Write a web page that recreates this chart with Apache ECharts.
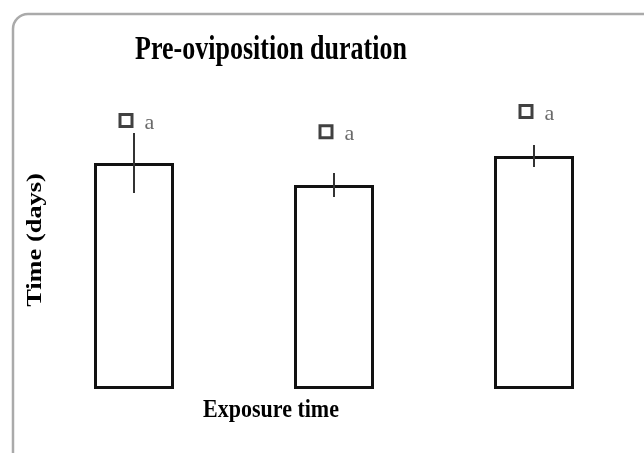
<!DOCTYPE html>
<html>
<head>
<meta charset="utf-8">
<script src="https://cdn.jsdelivr.net/npm/echarts@6/dist/echarts.min.js"></script>
<style>html,body{margin:0;padding:0;background:#fff}#c{width:644px;height:453px}</style>
</head>
<body>
<div id="c"></div>
<script>
var categories = ['T1', 'T2', 'T3'];
var meanValues = [2.26, 2.04, 2.33];
var errorValues = [0.30, 0.12, 0.11];
var markerValues = [2.685, 2.573, 2.775];
var markerLabels = ['a', 'a', 'a'];
var titleText = 'Pre-oviposition duration';
var xName = 'Exposure time';
var yName = 'Time (days)';

var chart = echarts.init(document.getElementById('c'), null, {renderer: 'canvas'});
var serif = '"Liberation Serif", "DejaVu Serif", serif';

var errData = categories.map(function (c, i) {
  return [i, meanValues[i] - errorValues[i], meanValues[i] + errorValues[i]];
});
var markData = categories.map(function (c, i) {
  return {value: [i, markerValues[i]], label: {formatter: markerLabels[i]}};
});

chart.setOption({
  animation: false,
  backgroundColor: '#fff',
  graphic: [
    {type: 'rect', shape: {x: 13, y: 14, width: 660, height: 460, r: 15},
     style: {fill: 'none', stroke: '#aaaaaa', lineWidth: 2.5}, z: -1},
    {type: 'text', x: 271, y: 50, scaleY: 1.28, style: {text: titleText, font: 'bold 26px ' + serif, fill: '#000', textAlign: 'center', textVerticalAlign: 'middle'}},
    {type: 'text', x: 271, y: 410, scaleY: 1.15, style: {text: xName, font: 'bold 22px ' + serif, fill: '#000', textAlign: 'center', textVerticalAlign: 'middle'}},
    {type: 'text', x: 35, y: 240, rotation: Math.PI / 2, scaleX: 1.2, style: {text: yName, font: 'bold 22px ' + serif, fill: '#000', textAlign: 'center', textVerticalAlign: 'middle'}}
  ],
  grid: {left: 34, right: 10, top: 89, bottom: 64},
  xAxis: {
    type: 'category', data: categories,
    axisLine: {show: false}, axisTick: {show: false}, axisLabel: {show: false}
  },
  yAxis: {
    type: 'value', min: 0, max: 3,
    axisLine: {show: false}, axisTick: {show: false}, axisLabel: {show: false}, splitLine: {show: false}
  },
  series: [
    {
      type: 'bar', data: meanValues, barWidth: 80,
      itemStyle: {color: '#fff', borderColor: '#111', borderWidth: 3},
      z: 2
    },
    {
      type: 'custom', data: errData, z: 3,
      renderItem: function (params, api) {
        var lo = api.coord([api.value(0), api.value(1)]);
        var hi = api.coord([api.value(0), api.value(2)]);
        return {type: 'line', shape: {x1: lo[0], y1: lo[1], x2: hi[0], y2: hi[1]},
                style: {stroke: '#333', lineWidth: 2}};
      }
    },
    {
      type: 'scatter', data: markData, symbol: 'rect', symbolSize: 12,
      symbolOffset: [-8, 0],
      itemStyle: {color: '#fff', borderColor: '#111', borderWidth: 3},
      label: {show: true, position: 'right', distance: 11, offset: [0, 3],
              fontFamily: serif, fontSize: 22, color: '#444'},
      z: 4
    }
  ]
});
</script>
</body>
</html>
